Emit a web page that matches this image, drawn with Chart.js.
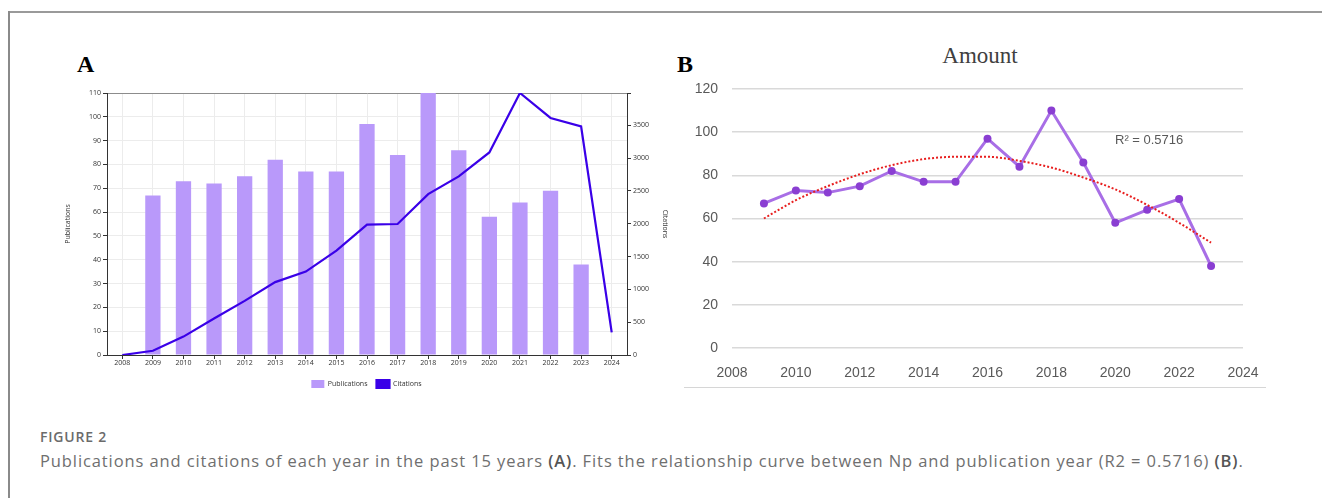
<!DOCTYPE html>
<html>
<head>
<meta charset="utf-8">
<script src="https://cdn.jsdelivr.net/npm/chart.js@4.4.1/dist/chart.umd.min.js"></script>
<style>
  html, body { margin: 0; padding: 0; background: #fff; }
  body { width: 1322px; height: 498px; position: relative; overflow: hidden; font-family: "Open Sans", sans-serif; }
  .frame-top { position: absolute; left: 9px; top: 11px; width: 1313px; height: 2px; background: #9a9a9a; }
  .frame-left { position: absolute; left: 8px; top: 11px; width: 2px; height: 487px; background: #8a8a8a; }
  .panel-tag { position: absolute; font-family: "Liberation Serif", "DejaVu Serif", serif; font-weight: bold; font-size: 24px; color: #000; }
  #wrapA { position: absolute; left: 40px; top: 80px; width: 650px; height: 320px; }
  #wrapB { position: absolute; left: 690px; top: 40px; width: 590px; height: 350px; }
  .titleB { position: absolute; left: 880px; top: 43px; width: 200px; text-align: center; font-family: "Liberation Serif", serif; font-size: 23px; color: #404040; }
  .r2 { position: absolute; left: 1115px; top: 132px; font-family: "Liberation Sans", sans-serif; font-size: 13px; color: #595959; }
  .baseB { position: absolute; left: 684px; top: 387px; width: 582px; height: 1px; background: #d6d6d6; }
  .fig { position: absolute; left: 40px; top: 427px; font-size: 14px; font-weight: 600; color: #6b6b6b; letter-spacing: 0.8px; }
  .cap { position: absolute; left: 40px; top: 449px; font-size: 16.5px; letter-spacing: 0.9px; color: #6f6f6f; white-space: nowrap; }
  .cap b { font-weight: 600; color: #555; }
</style>
</head>
<body>
<div class="frame-top"></div>
<div class="frame-left"></div>
<div class="panel-tag" style="left:77px; top:51px;">A</div>
<div class="panel-tag" style="left:677px; top:51px;">B</div>
<div id="wrapA"><canvas id="chartA"></canvas></div>
<div class="titleB">Amount</div>
<div id="wrapB"><canvas id="chartB"></canvas></div>
<div class="r2">R² = 0.5716</div>
<div class="baseB"></div>
<div class="fig">FIGURE 2</div>
<div class="cap">Publications and citations of each year in the past 15 years <b>(A)</b>. Fits the relationship curve between Np and publication year (R2 = 0.5716) <b>(B)</b>.</div>

<script>
// Years shown on the publication/citation chart
const years = ['2008', '2009', '2010', '2011', '2012', '2013', '2014', '2015', '2016',
               '2017', '2018', '2019', '2020', '2021', '2022', '2023', '2024'];
// Number of publications per year (none recorded for 2008 and 2024)
const publications = [null, 67, 73, 72, 75, 82, 77, 77, 97, 84, 110, 86, 58, 64, 69, 38, null];
// Number of citations per year
const citations = [0, 65, 280, 555, 825, 1110, 1270, 1590, 1985, 1995, 2450, 2720, 3085, 3990, 3610, 3480, 345];
// Polynomial trend of publications (R² = 0.5716), one value per year 2009–2023
const trendYears = [2009, 2010, 2011, 2012, 2013, 2014, 2015, 2016, 2017, 2018, 2019, 2020, 2021, 2022, 2023];
const trendValues = [60, 68.5, 75, 80.5, 84.7, 87.5, 88.6, 88.6, 86.7, 83.6, 79, 73.5, 66.3, 58, 48.8];
// Tick steps for the axes
const pubTickStep = 10;
const citTickStep = 500;
const amountTickStep = 20;

const tickFontA = { family: "'Open Sans', sans-serif", size: 7 };
const citMax = Math.max(...citations);

// ---------- Panel A: publications (bars) and citations (line) ----------
new Chart(document.getElementById('chartA'), {
  data: {
    labels: years,
    datasets: [
      {
        type: 'line',
        label: 'Citations',
        data: citations,
        yAxisID: 'yCit',
        borderColor: 'rgb(58, 0, 232)',
        backgroundColor: 'rgb(58, 0, 232)',
        borderWidth: 2.2,
        pointRadius: 0,
        tension: 0,
        order: 0
      },
      {
        type: 'bar',
        label: 'Publications',
        data: publications,
        yAxisID: 'yPub',
        backgroundColor: 'rgb(185, 153, 250)',
        borderWidth: 0,
        barPercentage: 0.5,
        categoryPercentage: 1,
        order: 1
      }
    ]
  },
  options: {
    responsive: true,
    maintainAspectRatio: false,
    animation: false,
    layout: { padding: { top: 13, left: 22, right: 19, bottom: 2 } },
    plugins: {
      legend: {
        position: 'bottom',
        reverse: true,
        labels: {
          boxWidth: 13,
          boxHeight: 8,
          padding: 9,
          color: '#333',
          font: { family: "'Open Sans', sans-serif", size: 7 }
        }
      },
      tooltip: { enabled: false }
    },
    scales: {
      x: {
        type: 'category',
        offset: true,
        grid: { offset: false, color: '#ececec', tickLength: 4, tickColor: '#333' },
        border: { color: '#333', width: 1 },
        ticks: { color: '#333', font: tickFontA, padding: 0, maxRotation: 0, autoSkip: false },
        afterFit: (s) => { s.height = 16; }
      },
      yPub: {
        type: 'linear',
        position: 'left',
        min: 0,
        max: Math.max(...publications.filter(v => v !== null)),
        ticks: { stepSize: pubTickStep, color: '#333', font: tickFontA, padding: 2 },
        grid: {
          color: (c) => (c.tick && c.tick.value === 110 ? '#8c8c8c' : '#ececec'),
          tickLength: 4,
          tickColor: '#333'
        },
        border: { color: '#333', width: 1 },
        title: { display: true, text: 'Publications', color: '#333', font: tickFontA, padding: 2 },
        afterFit: (s) => { s.width = 45; }
      },
      yCit: {
        type: 'linear',
        position: 'right',
        min: 0,
        max: citMax,
        // ticks every 500 plus an unlabelled mark at the top of the axis
        afterBuildTicks: (s) => {
          const t = [];
          for (let v = 0; v < citMax; v += citTickStep) t.push({ value: v });
          t.push({ value: citMax });
          s.ticks = t;
        },
        ticks: {
          color: '#333',
          font: tickFontA,
          padding: 2,
          callback: (v) => (v % citTickStep === 0 ? String(v) : '')
        },
        grid: { drawOnChartArea: false, tickLength: 4, tickColor: '#333' },
        border: { color: '#333', width: 1 },
        title: { display: true, text: 'Citations', color: '#333', font: tickFontA, padding: 2 },
        afterFit: (s) => { s.width = 44; }
      }
    }
  }
});

// ---------- Panel B: publications per year with polynomial trend ----------
const amountPoints = years
  .map((y, i) => ({ x: Number(y), y: publications[i] }))
  .filter(p => p.y !== null);
const trendPoints = trendYears.map((y, i) => ({ x: y, y: trendValues[i] }));

const tickFontB = { family: "'Liberation Sans', sans-serif", size: 14 };

new Chart(document.getElementById('chartB'), {
  type: 'line',
  data: {
    datasets: [
      {
        label: 'Amount',
        data: amountPoints,
        borderColor: 'rgb(168, 110, 230)',
        backgroundColor: 'rgb(138, 62, 210)',
        borderWidth: 3,
        pointRadius: 4,
        pointBorderWidth: 0,
        pointBackgroundColor: 'rgb(138, 62, 210)',
        tension: 0,
        order: 1
      },
      {
        label: 'Trend',
        data: trendPoints,
        borderColor: 'rgb(232, 30, 30)',
        borderWidth: 2,
        borderDash: [2, 2],
        pointRadius: 0,
        cubicInterpolationMode: 'monotone',
        order: 0
      }
    ]
  },
  options: {
    responsive: true,
    maintainAspectRatio: false,
    animation: false,
    layout: { padding: { top: 49, left: 0, right: 37, bottom: 0 } },
    plugins: { legend: { display: false }, tooltip: { enabled: false } },
    scales: {
      x: {
        type: 'linear',
        min: 2008,
        max: 2024,
        ticks: { stepSize: 2, color: '#595959', font: tickFontB, padding: 9, callback: (v) => String(v) },
        grid: { display: false },
        border: { display: false },
        afterFit: (s) => { s.height = 42; }
      },
      y: {
        type: 'linear',
        min: 0,
        max: 120,
        ticks: { stepSize: amountTickStep, color: '#595959', font: tickFontB, padding: 14 },
        grid: { color: '#d9d9d9', lineWidth: 1.5, drawTicks: false },
        border: { display: false },
        afterFit: (s) => { s.width = 42; }
      }
    }
  }
});
</script>
</body>
</html>
